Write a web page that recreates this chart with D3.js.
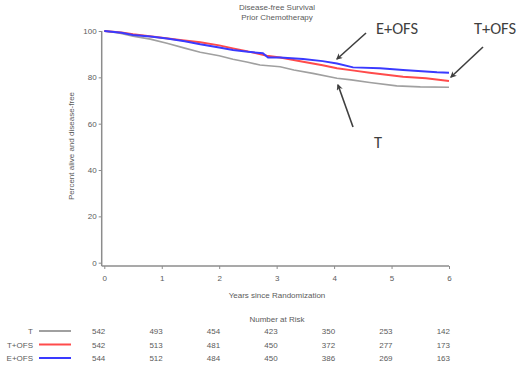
<!DOCTYPE html>
<html>
<head>
<meta charset="utf-8">
<script src="https://cdn.jsdelivr.net/npm/d3@7"></script>
<style>
  body { margin: 0; background: #fff; }
  svg { display: block; font-family: "Liberation Sans", Arial, sans-serif; }
</style>
</head>
<body>
<div class="km-chart"></div>
<script>
// survival estimates (years, percent)
var yearsT     = [0, 0.25, 0.5, 0.8, 1.09, 1.4, 1.67, 2.0, 2.24, 2.5, 2.71, 3.06, 3.3, 3.63, 4.05, 4.3, 4.62, 5.09, 5.5, 6];
var survT      = [100, 99.2, 97.8, 96.5, 94.7, 92.6, 90.8, 89.3, 87.8, 86.5, 85.3, 84.6, 83.2, 81.7, 79.6, 78.9, 77.8, 76.3, 75.9, 75.7];
var yearsTOFS  = [0, 0.3, 0.5, 0.9, 1.32, 1.67, 2.0, 2.24, 2.5, 2.83, 3.06, 3.46, 3.8, 4.05, 4.35, 4.62, 5.2, 5.6, 6];
var survTOFS   = [100, 99.4, 98.6, 97.4, 96.1, 95.1, 93.8, 92.5, 91.2, 89.3, 88.6, 86.7, 85.2, 83.9, 82.9, 82.0, 80.3, 79.6, 78.4];
var yearsEOFS  = [0, 0.3, 0.5, 0.8, 1.09, 1.4, 1.67, 2.0, 2.24, 2.5, 2.76, 2.85, 3.06, 3.46, 3.8, 4.05, 4.33, 4.8, 5.2, 5.79, 6];
var survEOFS   = [100, 99.2, 98.3, 97.6, 96.8, 95.6, 94.3, 92.9, 91.8, 91.0, 90.4, 88.6, 88.6, 87.9, 87.0, 86.0, 84.3, 83.9, 83.2, 82.2, 82.0];

var groups     = ['T', 'T+OFS', 'E+OFS'];
var groupColor = ['#a0a0a0', '#ff4b4b', '#3a3aff'];
var xTicks     = [0, 1, 2, 3, 4, 5, 6];
var yTicks     = [0, 20, 40, 60, 80, 100];
var riskT      = [542, 493, 454, 423, 350, 253, 142];
var riskTOFS   = [542, 513, 481, 450, 372, 277, 173];
var riskEOFS   = [544, 512, 484, 450, 386, 269, 163];

var width = 521, height = 365,
    axisColor = '#8c8c8c',
    textColor = '#5b5b5b',
    noteColor = '#3f3f3f';

var svg = d3.select('.km-chart').append('svg')
    .attr('width', width)
    .attr('height', height);

var x = d3.scaleLinear().domain([0, 6]).range([104.3, 449]);
var y = d3.scaleLinear().domain([0, 100]).range([262.7, 31]);

// titles
svg.append('text').text('Disease-free Survival')
    .attr('x', 277).attr('y', 10)
    .attr('text-anchor', 'middle').attr('font-size', 8).attr('fill', textColor);
svg.append('text').text('Prior Chemotherapy')
    .attr('x', 277).attr('y', 19.5)
    .attr('text-anchor', 'middle').attr('font-size', 8).attr('fill', textColor);

// axes (offset from the data area like the original)
var yAxis = svg.append('g')
    .attr('transform', 'translate(101.7,0)')
    .call(d3.axisLeft(y).tickValues(yTicks).tickSize(3).tickPadding(2));
var xAxis = svg.append('g')
    .attr('transform', 'translate(0,266)')
    .call(d3.axisBottom(x).tickValues(xTicks).tickFormat(d3.format('d')).tickSize(3).tickPadding(6));

[xAxis, yAxis].forEach(function (a) {
    a.select('.domain').remove();
    a.selectAll('line').attr('stroke', axisColor);
    a.selectAll('text').attr('fill', textColor).attr('font-size', 8).attr('font-family', null);
});
svg.append('line')
    .attr('x1', 101.7).attr('x2', 101.7).attr('y1', 31).attr('y2', 266)
    .attr('stroke', axisColor).attr('stroke-width', 1.5);
svg.append('line')
    .attr('x1', 101.7).attr('x2', 449).attr('y1', 266).attr('y2', 266)
    .attr('stroke', axisColor).attr('stroke-width', 1.5);

svg.append('text').text('Percent alive and disease-free')
    .attr('transform', 'translate(74,146) rotate(-90)')
    .attr('text-anchor', 'middle').attr('font-size', 8).attr('fill', textColor);
svg.append('text').text('Years since Randomization')
    .attr('x', 277).attr('y', 298)
    .attr('text-anchor', 'middle').attr('font-size', 8).attr('fill', textColor);

// survival curves
var curves = [
    { years: yearsT, surv: survT, w: 1.6 },
    { years: yearsTOFS, surv: survTOFS, w: 2 },
    { years: yearsEOFS, surv: survEOFS, w: 2 }
];
var line = d3.line()
    .x(function (d) { return x(d[0]); })
    .y(function (d) { return y(d[1]); });

curves.forEach(function (c, i) {
    var pts = c.years.map(function (t, j) { return [t, c.surv[j]]; });
    svg.append('path')
        .attr('d', line(pts))
        .attr('fill', 'none')
        .attr('stroke', groupColor[i])
        .attr('stroke-width', c.w);
});

// annotations with arrows
var defs = svg.append('defs');
defs.append('marker')
    .attr('id', 'head')
    .attr('viewBox', '0 0 10 10')
    .attr('refX', 8).attr('refY', 5)
    .attr('markerWidth', 4).attr('markerHeight', 4)
    .attr('orient', 'auto')
    .append('path')
    .attr('d', 'M0,0 L10,5 L0,10 L3,5 Z')
    .attr('fill', noteColor);

var notes = [
    { label: 'E+OFS', tx: 397, ty: 34, from: [366, 33], to: [337, 59] },
    { label: 'T+OFS', tx: 495, ty: 34, from: [483, 47], to: [451, 77] },
    { label: 'T', tx: 378, ty: 148, from: [353, 127], to: [338, 85] }
];
notes.forEach(function (n) {
    svg.append('text').text(n.label)
        .attr('x', n.tx).attr('y', n.ty)
        .attr('text-anchor', 'middle')
        .attr('font-family', 'Carlito, Lato, "Open Sans", sans-serif')
        .attr('font-size', 16.5).attr('fill', noteColor);
    svg.append('line')
        .attr('x1', n.from[0]).attr('y1', n.from[1])
        .attr('x2', n.to[0]).attr('y2', n.to[1])
        .attr('stroke', noteColor).attr('stroke-width', 1.6)
        .attr('marker-end', 'url(#head)');
});

// number at risk table
svg.append('text').text('Number at Risk')
    .attr('x', 277).attr('y', 322)
    .attr('text-anchor', 'middle').attr('font-size', 8).attr('fill', textColor);

var riskRows = [riskT, riskTOFS, riskEOFS];
var rowY = [331, 344.5, 358];
riskRows.forEach(function (row, i) {
    var g = svg.append('g');
    g.append('text').text(groups[i])
        .attr('x', 33).attr('y', rowY[i] + 3)
        .attr('text-anchor', 'end').attr('font-size', 8).attr('fill', textColor);
    g.append('line')
        .attr('x1', 39).attr('x2', 71).attr('y1', rowY[i]).attr('y2', rowY[i])
        .attr('stroke', groupColor[i]).attr('stroke-width', 2);
    g.selectAll('text.n').data(row).enter().append('text')
        .attr('class', 'n')
        .text(function (d) { return d; })
        .attr('x', function (d, j) { return x(xTicks[j]) + 1; })
        .attr('y', rowY[i] + 3)
        .attr('text-anchor', 'end').attr('font-size', 8).attr('fill', textColor);
});
</script>
</body>
</html>
